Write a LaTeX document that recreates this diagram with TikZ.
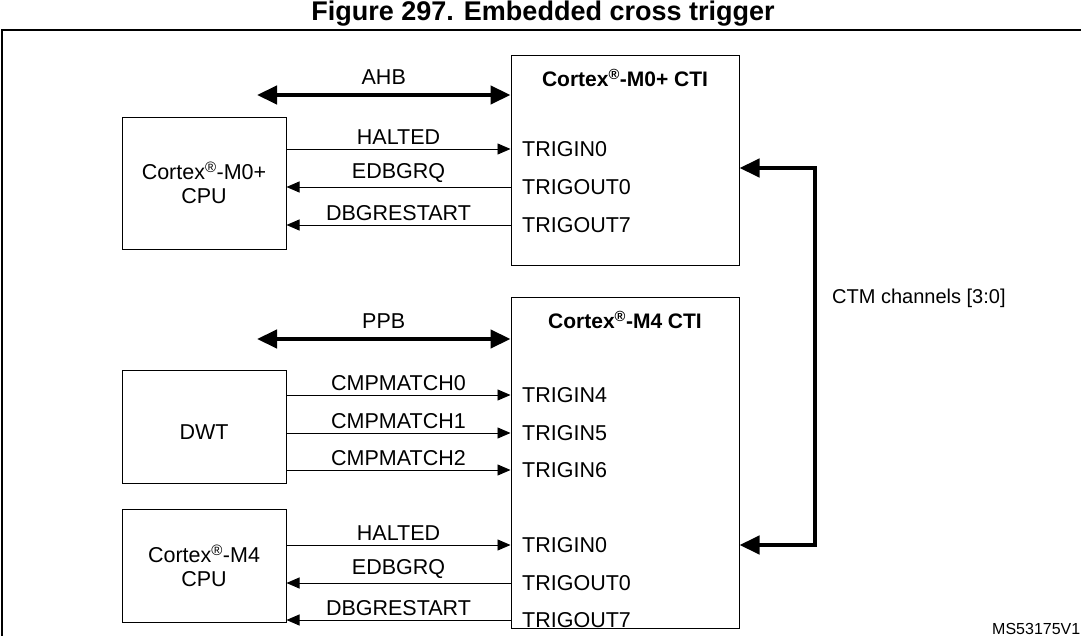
\documentclass[tikz,border=0pt]{standalone}
\usepackage{fontspec}
\setmainfont{Liberation Sans}
\usetikzlibrary{arrows.meta,positioning}
\tikzset{%
  block/.style  = {draw, line width=1pt, rectangle, inner sep=0pt},
  port/.style   = {anchor=west, inner sep=0pt, font=\fontsize{21.5}{24}\selectfont},
  sig/.style    = {-{Triangle[length=13pt,width=11pt]}, line width=0.9pt},
  bus/.style    = {{Triangle[length=20pt,width=18pt]}-{Triangle[length=20pt,width=18pt]}, line width=4.5pt},
  lbl/.style    = {inner sep=0pt, font=\fontsize{21.5}{24}\selectfont},
  ttl/.style    = {inner sep=0pt, font=\bfseries\fontsize{21}{23}\selectfont}
}
\newcommand{\reg}{\textsuperscript{\textregistered}}
\begin{document}
\begin{tikzpicture}[x=1pt,y=-1pt]
  \useasboundingbox (0,0) rectangle (1081,636);
  % Title and frame
  \node[lbl, font=\bfseries\fontsize{27}{29}\selectfont] (title) at (543,14) {Figure 297. Embedded cross trigger};
  \draw[line width=1.2pt] (1090,30) -- (2,30) -- (2,650);

  % Cortex-M0+ side
  \node[block, minimum width=228pt, minimum height=210pt] (ctiA) at (625,161) {};
  \node[ttl] (ctiAt) at (625,78) {Cortex\reg-M0+ CTI};
  \node[block, minimum width=164pt, minimum height=132pt] (cpuA) at (204,184) {};
  \node[lbl, align=center] (cpuAt) at (204,183) {Cortex\reg-M0+\\CPU};
  \node[port] (inA0) at (522,149) {TRIGIN0};
  \node[port] (outA0) at (522,187) {TRIGOUT0};
  \node[port] (outA7) at (522,225) {TRIGOUT7};
  \coordinate (ahb) at (257,95);
  \draw[bus] (ahb) -- (ctiA.west |- ahb) node[midway, above=8pt, lbl] {AHB};
  \draw[sig] (cpuA.east |- inA0) -- (ctiA.west |- inA0) node[midway, above=4pt, lbl] {HALTED};
  \draw[sig] (ctiA.west |- outA0) -- (cpuA.east |- outA0) node[midway, above=4pt, lbl] {EDBGRQ};
  \draw[sig] (ctiA.west |- outA7) -- (cpuA.east |- outA7) node[midway, above=4pt, lbl] {DBGRESTART};

  % Cortex-M4 side
  \node[block, minimum width=228pt, minimum height=331pt] (ctiB) at (625,462.5) {};
  \node[ttl] (ctiBt) at (625,320) {Cortex\reg-M4 CTI};
  \node[block, minimum width=164pt, minimum height=113pt] (dwt) at (204,426.5) {};
  \node[lbl] (dwtt) at (204,432) {DWT};
  \node[block, minimum width=164pt, minimum height=113pt] (cpuB) at (204,565.5) {};
  \node[lbl, align=center] (cpuBt) at (204,566) {Cortex\reg-M4\\CPU};
  \node[port] (in4) at (522,395) {TRIGIN4};
  \node[port] (in5) at (522,433) {TRIGIN5};
  \node[port] (in6) at (522,470) {TRIGIN6};
  \node[port] (inB0) at (522,545) {TRIGIN0};
  \node[port] (outB0) at (522,583) {TRIGOUT0};
  \node[port] (outB7) at (522,620) {TRIGOUT7};
  \coordinate (ppb) at (257,339);
  \draw[bus] (ppb) -- (ctiB.west |- ppb) node[midway, above=8pt, lbl] {PPB};
  \draw[sig] (dwt.east |- in4) -- (ctiB.west |- in4) node[midway, above=4pt, lbl] {CMPMATCH0};
  \draw[sig] (dwt.east |- in5) -- (ctiB.west |- in5) node[midway, above=4pt, lbl] {CMPMATCH1};
  \draw[sig] (dwt.east |- in6) -- (ctiB.west |- in6) node[midway, above=4pt, lbl] {CMPMATCH2};
  \draw[sig] (cpuB.east |- inB0) -- (ctiB.west |- inB0) node[midway, above=4pt, lbl] {HALTED};
  \draw[sig] (ctiB.west |- outB0) -- (cpuB.east |- outB0) node[midway, above=4pt, lbl] {EDBGRQ};
  \draw[sig] (ctiB.west |- outB7) -- (cpuB.east |- outB7) node[midway, above=4pt, lbl] {DBGRESTART};

  % CTM channels
  \coordinate (ctmA) at (815,168);
  \coordinate (ctmB) at (815,545);
  \draw[bus, line join=miter] (ctiA.east |- ctmA) -- (ctmA) -- (ctmB) -- (ctiB.east |- ctmB);
  \node[lbl, anchor=west, font=\fontsize{20}{22}\selectfont] (ctm) at (832,298) {CTM channels [3:0]};
  \node[lbl, anchor=west, font=\fontsize{16}{18}\selectfont] (code) at (992,629) {MS53175V1};
\end{tikzpicture}
\end{document}
